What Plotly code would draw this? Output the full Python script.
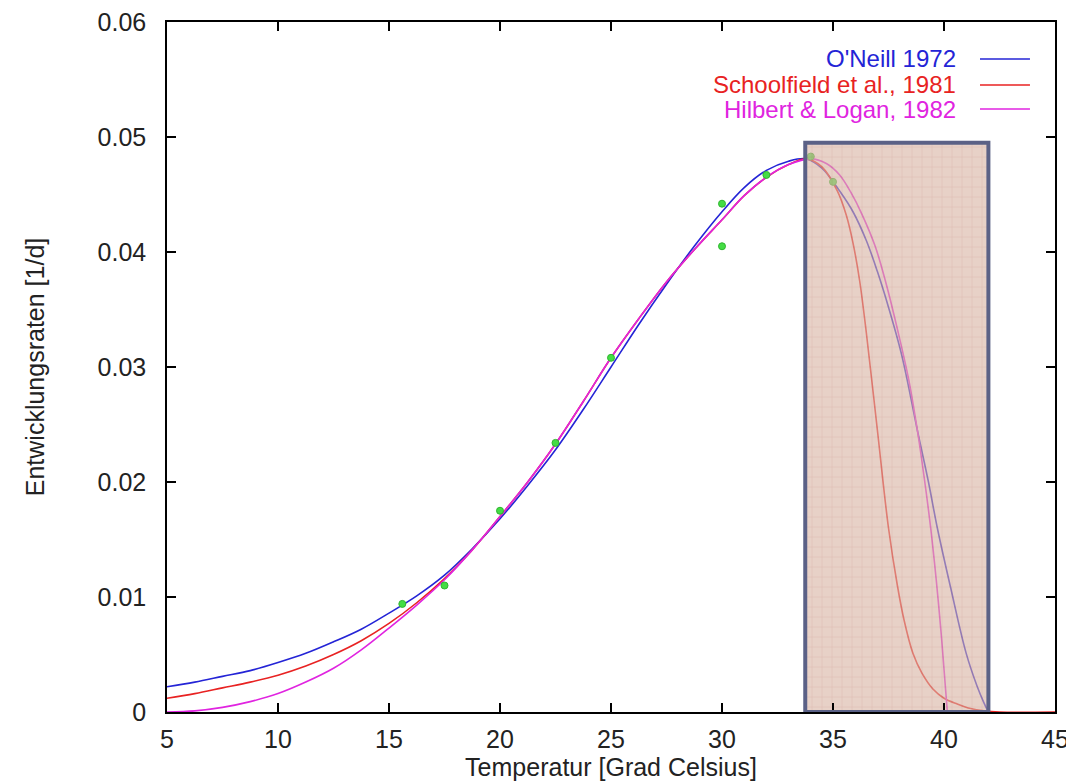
import plotly.graph_objects as go

# ---- data ----
oneill_T = [5, 6.25, 7.5, 8.75, 10, 11.25, 12.5, 13.75, 15, 16.25, 17.5, 18.75, 20, 21.25, 22.5, 23.75, 25, 26.25, 27.5, 28.75, 30, 31, 32, 33, 33.8, 34.5, 35.3, 35.9, 36.5, 37.0, 37.5, 38.1, 38.8, 39.3, 39.7, 40.3, 41.0, 41.5, 41.8, 42.0]
oneill_v = [0.0022, 0.0026, 0.0031, 0.0036, 0.0043, 0.0051, 0.0061, 0.0072, 0.0086, 0.0101, 0.0119, 0.0142, 0.0168, 0.0197, 0.0228, 0.0263, 0.0300, 0.0337, 0.0372, 0.0405, 0.0435, 0.0456, 0.0471, 0.0479, 0.0481, 0.0473, 0.0453, 0.0435, 0.0410, 0.0383, 0.0352, 0.0310, 0.0245, 0.0200, 0.0160, 0.0108, 0.0051, 0.0022, 0.0008, 0.0]

school_T = [5, 6.25, 7.5, 8.75, 10, 11.25, 12.5, 13.75, 15, 16.25, 17.5, 18.75, 20, 21.25, 22.5, 23.75, 25, 26.25, 27.5, 28.75, 30, 31, 32, 33, 33.8, 34.5, 35.2, 35.6, 35.9, 36.2, 36.5, 37.0, 37.5, 37.9, 38.2, 38.6, 39.0, 39.5, 40.0, 40.6, 41.2, 41.8, 42.5, 45]
school_v = [0.0012, 0.0016, 0.0021, 0.0026, 0.0032, 0.0040, 0.0050, 0.0062, 0.0077, 0.0095, 0.0116, 0.0141, 0.0170, 0.0200, 0.0233, 0.0270, 0.0308, 0.0342, 0.0374, 0.0402, 0.0428, 0.0449, 0.0465, 0.0476, 0.0481, 0.0474, 0.0453, 0.0432, 0.0408, 0.0375, 0.0330, 0.0245, 0.0160, 0.0110, 0.0080, 0.0051, 0.0034, 0.0020, 0.0012, 0.0007, 0.0003, 0.0001, 0.0, 0.0]

hilbert_T = [5, 6.25, 7.5, 8.75, 10, 11.25, 12.5, 13.75, 15, 16.25, 17.5, 18.75, 20, 21.25, 22.5, 23.75, 25, 26.25, 27.5, 28.75, 30, 31, 32, 33, 34, 34.7, 35.3, 35.8, 36.3, 36.9, 37.4, 37.9, 38.4, 38.8, 39.1, 39.4, 39.65, 39.9, 40.05, 40.15]
hilbert_v = [0.0, 0.0001, 0.0004, 0.0009, 0.0016, 0.0026, 0.0038, 0.0054, 0.0073, 0.0093, 0.0115, 0.0141, 0.0170, 0.0200, 0.0233, 0.0270, 0.0308, 0.0342, 0.0374, 0.0402, 0.0428, 0.0449, 0.0465, 0.0476, 0.0481, 0.0477, 0.0467, 0.0452, 0.0433, 0.0405, 0.0372, 0.0333, 0.0290, 0.0245, 0.0205, 0.0160, 0.0115, 0.0062, 0.0025, 0.0]

obs_T = [15.6, 17.5, 20.0, 22.5, 25.0, 30.0, 30.0, 32.0, 34.0, 35.0]
obs_v = [0.0094, 0.0110, 0.0175, 0.0234, 0.0308, 0.0442, 0.0405, 0.0467, 0.0483, 0.0461]

# highlighted temperature range
hl_T0, hl_T1, hl_top = 33.75, 42.0, 0.0495

x_ticks = [5, 10, 15, 20, 25, 30, 35, 40, 45]
y_ticks = [0, 0.01, 0.02, 0.03, 0.04, 0.05, 0.06]
y_ticklabels = ["0", "0.01", "0.02", "0.03", "0.04", "0.05", "0.06"]

series = [
    ("O'Neill 1972", oneill_T, oneill_v, "#2424d6"),
    ("Schoolfield et al., 1981", school_T, school_v, "#e82222"),
    ("Hilbert & Logan, 1982", hilbert_T, hilbert_v, "#e024e0"),
]

FONT = "Liberation Sans, Arial, sans-serif"

fig = go.Figure()
for name, T, v, col in series:
    fig.add_trace(go.Scatter(x=T, y=v, mode="lines", name=name,
                             line=dict(color=col, width=1.6, shape="spline", smoothing=1.0),
                             showlegend=False))
fig.add_trace(go.Scatter(x=obs_T, y=obs_v, mode="markers", showlegend=False,
                         marker=dict(color="#44dd44", size=7,
                                     line=dict(color="#2fb52f", width=1))))

# translucent patterned overlay for highlighted range (on overlaid axes so it sits above the lines)
fig.add_trace(go.Bar(x=[(hl_T0 + hl_T1) / 2], y=[hl_top], width=[hl_T1 - hl_T0],
                     xaxis="x2", yaxis="y2", showlegend=False, hoverinfo="skip",
                     marker=dict(color="#d9b4a4", opacity=0.62,
                                 line=dict(width=0),
                                 pattern=dict(shape="+", size=10, solidity=0.12,
                                              fgcolor="#b97c6c"))))

fig.add_shape(type="rect", xref="x", yref="y", x0=hl_T0, x1=hl_T1, y0=0, y1=hl_top,
              line=dict(color="#5b6186", width=4), fillcolor="rgba(0,0,0,0)", layer="above")

# legend (text right-aligned, sample line to the right)
leg_y = [0.9464, 0.9087, 0.8739]
for (name, T, v, col), yy in zip(series, leg_y):
    fig.add_annotation(xref="paper", yref="paper", x=0.8908, y=yy, text=name,
                       showarrow=False, xanchor="right", yanchor="middle",
                       font=dict(family=FONT, size=24, color=col))
    fig.add_shape(type="line", xref="paper", yref="paper", x0=0.9155, x1=0.9718,
                  y0=yy, y1=yy, line=dict(color=col, width=1.6))

axis_common = dict(showline=True, linecolor="black", linewidth=1.5, mirror="ticks",
                   ticks="inside", ticklen=9, tickcolor="black", tickwidth=1.5,
                   showgrid=False, zeroline=False, automargin=False,
                   ticklabeloverflow="allow",
                   tickfont=dict(family=FONT, size=25, color="#222222"))

# the page body has an 8px margin; size the figure so the plot area lands where the reference has it
fig.update_layout(
    width=1066, height=776,
    margin=dict(l=159, r=19, t=14, b=72),
    paper_bgcolor="white", plot_bgcolor="white",
    barmode="overlay",
    xaxis=dict(range=[5, 45], tickvals=x_ticks, ticklabelstandoff=4,
               title=dict(text="Temperatur [Grad Celsius]", standoff=3,
                          font=dict(family=FONT, size=25, color="#222222")),
               **axis_common),
    yaxis=dict(range=[0, 0.06], tickvals=y_ticks, ticktext=y_ticklabels, ticklabelstandoff=14,
               title=dict(text="Entwicklungsraten [1/d]", standoff=46,
                          font=dict(family=FONT, size=25, color="#222222")),
               **axis_common),
    xaxis2=dict(range=[5, 45], overlaying="x", visible=False),
    yaxis2=dict(range=[0, 0.06], overlaying="y", visible=False),
)

fig.write_html("out.html")
